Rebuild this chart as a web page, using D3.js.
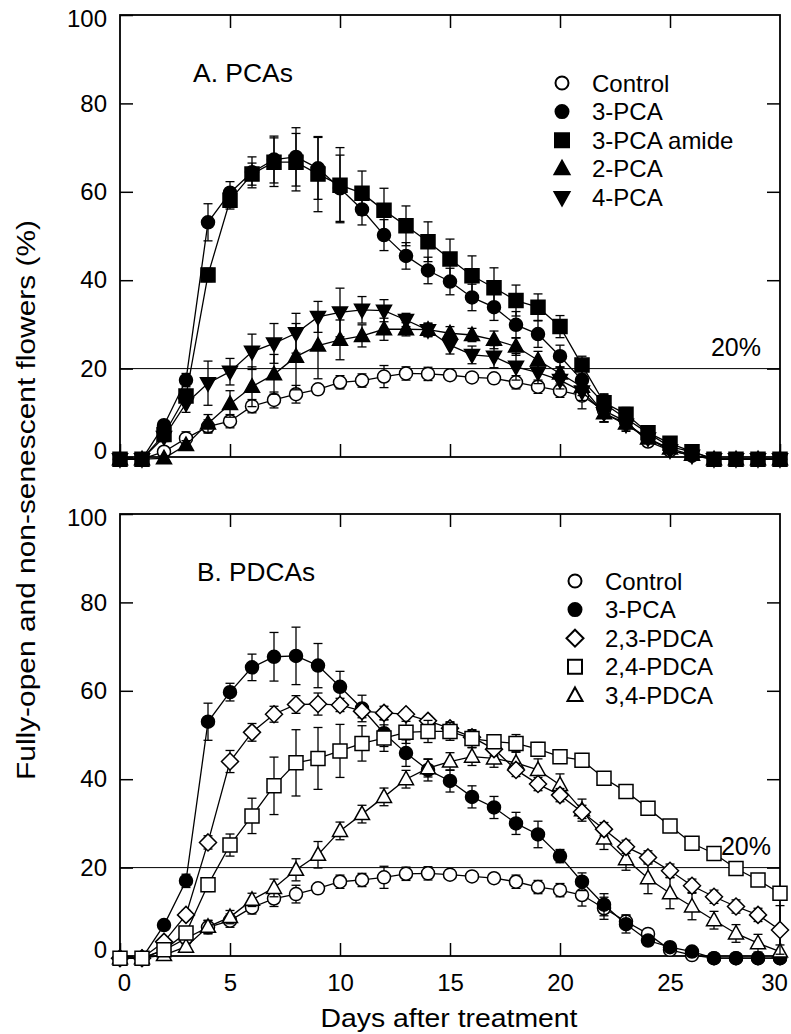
<!DOCTYPE html>
<html>
<head>
<meta charset="utf-8">
<script src="https://cdn.jsdelivr.net/npm/d3@7"></script>
<style>
  body { margin: 0; background: #fff; }
  svg text { font-family: "Liberation Sans", Arial, Helvetica, sans-serif; fill: #000; }
</style>
</head>
<body>
<div id="chart"></div>
<script>
var days = [0,1,2,3,4,5,6,7,8,9,10,11,12,13,14,15,16,17,18,19,20,21,22,23,24,25,26,27,28,29,30];

// panel A values (%)
var controlA = [-0.5,-0.5,1.2,4.2,6.9,8.1,11.5,12.9,14.2,15.3,16.9,17.3,18.2,18.9,18.8,18.5,18.0,17.8,16.9,15.9,15.0,13.9,10.5,8.0,3.5,1.5,0.3,-0.5,-0.5,-0.5,-0.5];
var pca3A = [-0.5,-0.5,7.2,17.4,53.1,59.8,64.4,67.3,67.9,65.3,60.8,56.0,50.2,45.5,42.2,39.7,36.1,33.9,29.9,27.8,22.8,17.4,12.1,8.7,5.4,2.3,1.2,-0.5,-0.5,-0.5,-0.5];
var amideA = [-0.5,-0.5,5.1,13.8,41.2,58.1,64.0,66.7,66.7,64.0,61.5,59.7,55.8,52.3,48.7,44.8,41.0,38.3,35.4,33.9,29.5,20.8,12.3,9.7,5.5,3.1,1.2,-0.5,-0.5,-0.5,-0.5];
var pca2A = [-0.5,-0.5,-0.3,2.7,7.6,12.0,15.9,18.7,22.7,25.2,26.5,27.4,28.9,28.9,28.8,28.0,27.6,26.5,25.0,21.9,18.9,15.9,9.9,7.6,4.2,1.9,0.5,-0.5,-0.5,-0.5,-0.5];
var pca4A = [-0.5,-0.5,4.5,12.1,16.7,19.3,23.8,25.7,28.0,31.7,32.7,33.3,33.1,31.0,28.7,25.3,23.1,22.7,20.4,19.1,17.4,14.8,9.9,7.3,4.2,1.5,0.3,-0.5,-0.5,-0.5,-0.5];

var controlAErr = [0,0,0.8,1.5,1.5,1.5,1.5,1.8,2,1,1.5,1.5,2.5,1.5,1.5,1,1,1,1.5,1.5,1.5,3,2.5,1.5,1,0.8,0.5,0,0,0,0];
var pca3AErr = [0,0,1,1.5,4.2,2.5,3.5,5.3,6.6,7,7.5,3.5,3.5,3,3,3,3,3,3,3,2.5,2.5,2,1.5,1.5,1,0.5,0,0,0,0];
var amideAErr = [0,0,1,1.5,1.5,2,2.5,5.5,6.5,8.5,8.5,5,5,4.5,4.5,4.5,4.5,4.5,3.5,3,2.5,2,2,1.5,1,1,0.5,0,0,0,0];
var pca2AErr = [0,0,0.5,1,2,3,4.5,4.5,7.5,7.5,4.5,2.5,2.5,1.5,1.5,1.5,1.5,2,2,2,1.5,2,2,1.5,1,0.5,0.5,0,0,0,0];
var pca4AErr = [0,0,1,2,5,3,4,4.5,4.5,3.5,5.5,3,2.5,1.5,1.5,2,2,2.5,3,2.5,2,2,2,1.5,1,0.5,0.5,0,0,0,0];

// panel B values (%)
var controlB = [-0.5,-0.5,1.3,4.0,6.5,8.0,11.0,13.0,14.0,15.3,16.8,17.2,17.8,18.6,18.7,18.4,18.0,17.6,16.8,15.6,14.9,13.8,10.8,7.8,5.0,1.4,0.2,-0.5,-0.5,-0.5,-0.5];
var pca3B = [-0.5,-0.5,7.0,17.0,53.0,59.7,65.3,67.7,67.9,65.7,60.9,56.0,50.4,45.9,42.1,39.6,36.0,33.6,30.0,27.5,22.6,16.8,11.6,7.2,3.5,2.0,1.0,-0.5,-0.5,-0.5,-0.5];
var pdca23 = [-0.5,-0.5,3.2,9.3,25.7,44.0,50.6,54.7,56.9,57.0,56.8,55.4,55.0,54.7,53.2,51.5,49.5,46.8,42.1,38.9,36.4,32.6,28.7,24.7,22.3,19.3,15.9,13.4,11.2,9.3,5.9];
var pdca24 = [-0.5,-0.5,1.4,5.2,16.1,25.1,31.7,38.5,43.7,44.7,46.4,48.1,49.3,50.6,50.8,50.8,49.2,48.5,48.1,46.8,45.1,44.3,40.2,37.2,33.4,29.4,25.5,23.2,19.8,17.2,14.2];
var pdca34 = [-0.5,-0.5,0.2,2.1,6.6,8.8,12.7,15.4,19.5,22.9,28.3,32.1,36.0,40.0,42.5,44.0,45.1,44.7,43.7,42.1,38.7,33.0,26.6,21.9,17.6,14.2,11.2,8.1,5.1,2.9,1.0];

var controlBErr = [0,0,0.8,1.5,1.5,1.5,1.5,1.8,2,1,1.5,1.5,2.5,1.5,1.5,1,1,1,1.5,1.5,1.5,2.5,2.5,1.5,1,0.8,0.5,0,0,0,0];
var pca3BErr = [0,0,1,1.5,4.2,2,3,5.5,6.5,5,3.5,3,3,3,2.5,2.5,2.5,2.5,2.5,3,1.5,2,2.5,2,1,1,0.5,0,0,0,0];
var pdca23Err = [0,0,0.8,1,1.5,2.5,2,1.8,2,2.5,1.5,1.5,1.5,1,1,1.5,1.5,1.5,1.5,1.5,1.5,1.5,1.5,1.5,1.5,1.5,1.5,1.5,1.5,1.5,5.5];
var pdca24Err = [0,0,0.5,1,1.5,2.5,4,6.5,7.5,7,6,4,3,2.5,2.5,2,2,1.5,2,1.5,1.5,1.5,1.5,1,1,0.8,0.8,0.8,0.8,0.8,1];
var pdca34Err = [0,0,0.5,0.8,1.5,1.5,1.5,2,2.5,3,2,2,2,2,2,2,2,2,2.5,2.5,2.5,2.5,2.5,2.5,3.5,3.5,3,2,2,2,1.5];

var yTicks = [0,20,40,60,80,100];
var xTicks = [0,5,10,15,20,25,30];

var width = 791, height = 1034;
var svg = d3.select("#chart").append("svg")
    .attr("width", width)
    .attr("height", height);

var x = d3.scaleLinear().domain([0, 30]).range([120, 780]);

function shapePath(shape) {
    if (shape == "circle") return d3.symbol(d3.symbolCircle, Math.PI * 6.5 * 6.5)();
    if (shape == "square") return "M-7,-7H7V7H-7Z";
    if (shape == "up") return "M0,-8L7.5,5.5H-7.5Z";
    if (shape == "down") return "M0,8L7.5,-5.5H-7.5Z";
    if (shape == "diamond") return "M0,-8.5L8.5,0L0,8.5L-8.5,0Z";
}

function drawPanel(top, series, legendTop, legendX, title, titleLen, pctX, showX) {
    var y = d3.scaleLinear().domain([0, 100]).range([top + 442, top]);
    var g = svg.append("g");

    // 20% reference line
    g.append("line")
        .attr("x1", x(0)).attr("x2", x(30))
        .attr("y1", y(20)).attr("y2", y(20))
        .attr("stroke", "black").attr("stroke-width", 1);

    g.append("text")
        .text("20%")
        .attr("x", pctX)
        .attr("y", y(20) - 13)
        .attr("text-anchor", "middle")
        .attr("font-size", 25);

    var left = g.append("g")
        .attr("transform", "translate(" + x(0) + ",0)")
        .call(d3.axisLeft(y).tickValues(yTicks).tickSize(-13).tickPadding(13));
    left.selectAll("text")
        .attr("font-size", 24)
        .attr("font-family", "Liberation Sans, Arial, sans-serif")
        .attr("dy", function (d) { return d == 0 ? "0.05em" : d == 100 ? "0.48em" : "0.32em"; });

    g.append("g")
        .attr("transform", "translate(" + x(30) + ",0)")
        .call(d3.axisRight(y).tickValues([20,40,60,80]).tickSize(-13).tickFormat(""));

    g.append("g")
        .attr("transform", "translate(0," + y(100) + ")")
        .call(d3.axisTop(x).tickValues([5,10,15,20,25]).tickSize(-13).tickFormat(""));

    var bottom = g.append("g")
        .attr("transform", "translate(0," + y(0) + ")")
        .call(d3.axisBottom(x).tickValues(xTicks).tickSize(-13).tickPadding(18)
            .tickFormat(showX ? d3.format("d") : ""));
    bottom.selectAll("text")
        .attr("font-size", 24)
        .attr("font-family", "Liberation Sans, Arial, sans-serif")
        .attr("dx", function (d) { return d == 30 ? -6 : d == 0 ? 4 : 0; });

    g.selectAll(".domain").remove();
    g.selectAll(".tick line").attr("stroke-width", 1.5);

    g.append("rect")
        .attr("x", x(0)).attr("y", y(100))
        .attr("width", x(30) - x(0))
        .attr("height", y(0) - y(100))
        .attr("fill", "none")
        .attr("stroke", "black")
        .attr("stroke-width", 1.8);

    g.append("text")
        .text(title)
        .attr("x", title[0] == "A" ? 193 : 197)
        .attr("y", top + 67)
        .attr("font-size", 25)
        .attr("textLength", titleLen)
        .attr("lengthAdjust", "spacingAndGlyphs");

    var line = d3.line()
        .x(function (d) { return x(d[0]); })
        .y(function (d) { return y(d[1]); });

    series.forEach(function (s) {
        var pts = days.map(function (d, i) { return [d, s.values[i], s.err[i]]; });
        var sg = g.append("g");

        sg.append("path")
            .attr("d", line(pts))
            .attr("fill", "none")
            .attr("stroke", "black")
            .attr("stroke-width", 1.3);

        pts.forEach(function (p) {
            if (!p[2]) return;
            var cx = x(p[0]);
            [p[1] - p[2], p[1] + p[2]].forEach(function (v) {
                sg.append("line")
                    .attr("x1", cx).attr("x2", cx)
                    .attr("y1", y(p[1])).attr("y2", y(v))
                    .attr("stroke", "black").attr("stroke-width", 1.3);
                sg.append("line")
                    .attr("x1", cx - 4.5).attr("x2", cx + 4.5)
                    .attr("y1", y(v)).attr("y2", y(v))
                    .attr("stroke", "black").attr("stroke-width", 1.3);
            });
        });

        sg.selectAll("path.mark")
            .data(pts)
            .join("path")
            .attr("class", "mark")
            .attr("d", shapePath(s.shape))
            .attr("transform", function (d) { return "translate(" + x(d[0]) + "," + y(d[1]) + ")"; })
            .attr("fill", s.filled ? "black" : "white")
            .attr("stroke", "black")
            .attr("stroke-width", 1.5);
    });

    // legend
    series.slice().sort(function (a, b) { return a.order - b.order; }).forEach(function (s, i) {
        var cy = legendTop + i * 28.6;
        g.append("path")
            .attr("d", shapePath(s.shape))
            .attr("transform", "translate(" + legendX + "," + cy + ")")
            .attr("fill", s.filled ? "black" : "white")
            .attr("stroke", "black")
            .attr("stroke-width", 2);
        g.append("text")
            .text(s.name)
            .attr("x", legendX + 30)
            .attr("y", cy + 8.5)
            .attr("font-size", 24);
    });
}

drawPanel(15, [
    {name: "Control", values: controlA, err: controlAErr, shape: "circle", filled: false, order: 0},
    {name: "2-PCA", values: pca2A, err: pca2AErr, shape: "up", filled: true, order: 3},
    {name: "4-PCA", values: pca4A, err: pca4AErr, shape: "down", filled: true, order: 4},
    {name: "3-PCA", values: pca3A, err: pca3AErr, shape: "circle", filled: true, order: 1},
    {name: "3-PCA amide", values: amideA, err: amideAErr, shape: "square", filled: true, order: 2}
], 83, 562, "A. PCAs", 100, 736, false);

drawPanel(514, [
    {name: "Control", values: controlB, err: controlBErr, shape: "circle", filled: false, order: 0},
    {name: "3-PCA", values: pca3B, err: pca3BErr, shape: "circle", filled: true, order: 1},
    {name: "3,4-PDCA", values: pdca34, err: pdca34Err, shape: "up", filled: false, order: 4},
    {name: "2,3-PDCA", values: pdca23, err: pdca23Err, shape: "diamond", filled: false, order: 2},
    {name: "2,4-PDCA", values: pdca24, err: pdca24Err, shape: "square", filled: false, order: 3}
], 581, 575, "B. PDCAs", 118, 746, true);

svg.append("text")
    .text("Days after treatment")
    .attr("x", 449)
    .attr("y", 1027)
    .attr("text-anchor", "middle")
    .attr("font-size", 25)
    .attr("textLength", 257)
    .attr("lengthAdjust", "spacingAndGlyphs");

svg.append("text")
    .text("Fully-open and non-senescent flowers (%)")
    .attr("transform", "translate(35,500) rotate(-90)")
    .attr("text-anchor", "middle")
    .attr("font-size", 26)
    .attr("textLength", 560)
    .attr("lengthAdjust", "spacingAndGlyphs");
</script>
</body>
</html>
